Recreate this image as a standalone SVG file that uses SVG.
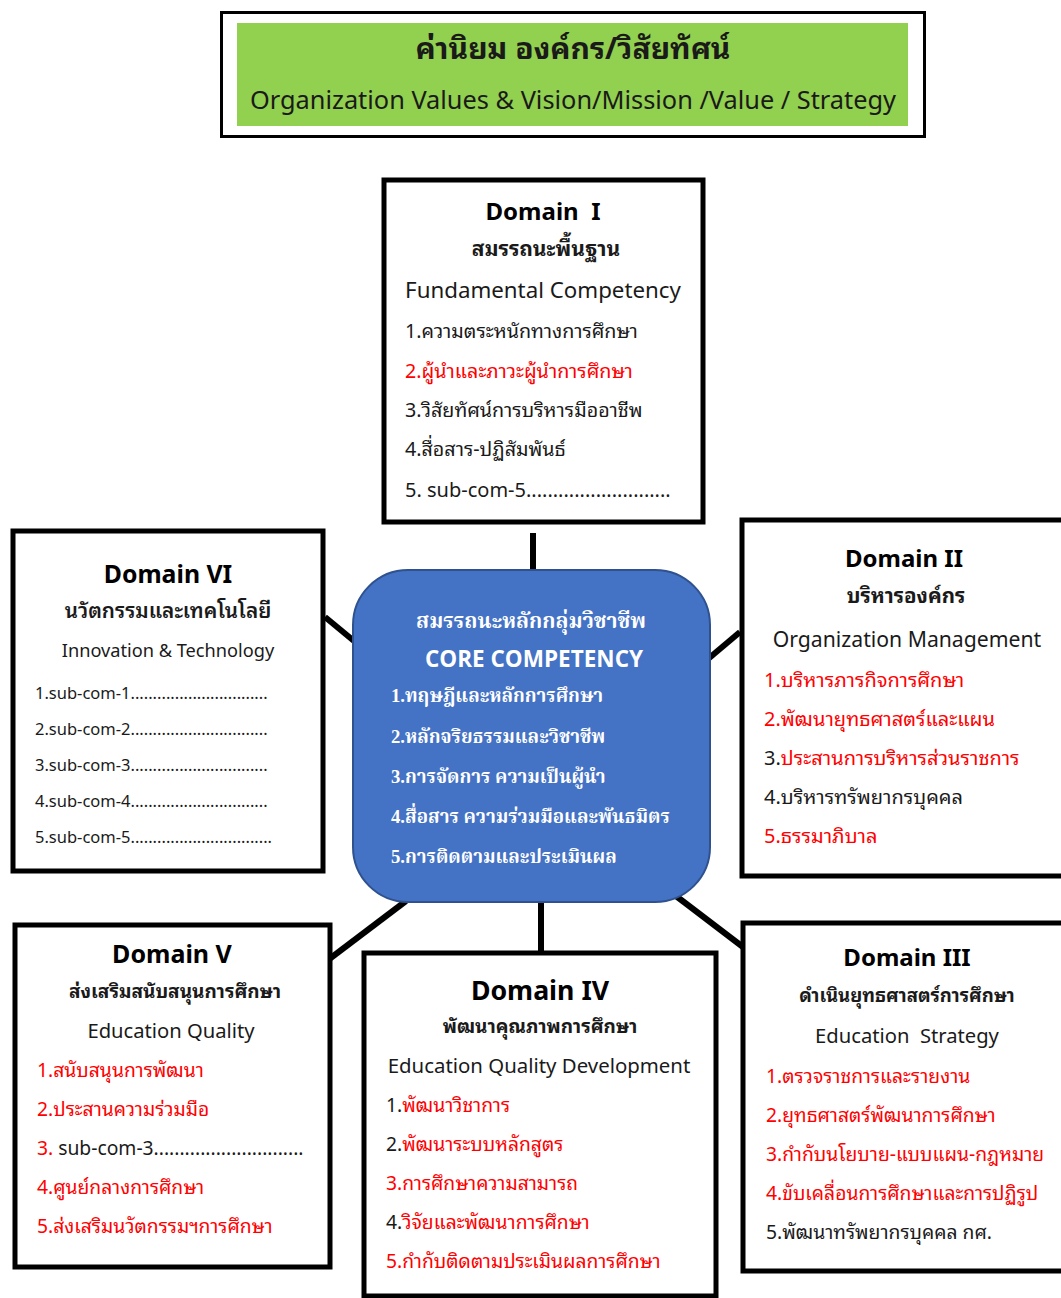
<svg xmlns="http://www.w3.org/2000/svg" width="1061" height="1298" viewBox="0 0 1061 1298">
<style>
.box{fill:#fff;stroke:#000;stroke-width:5}
.conn{stroke:#000;stroke-width:6;fill:none}
.t{font-family:"Noto Sans","Noto Sans Thai Looped","Noto Sans Thai","DejaVu Sans",sans-serif;fill:#1a1a1a}
.dom{font-weight:bold;text-anchor:middle;fill:#000}
.th{text-anchor:middle;fill:#1a1a1a}
.en{text-anchor:middle}
.r{fill:#ff0000}
.k{fill:#1a1a1a}
.c{font-family:"Liberation Serif","Noto Serif Thai","Noto Sans Thai",serif;fill:#fff;font-weight:bold}
</style>
<g id="header">
<rect x="221.5" y="12.5" width="703" height="124" fill="#fff" stroke="#000" stroke-width="3"/>
<rect x="237" y="23" width="671" height="103" fill="#92D050"/>
<text class="t" x="573" y="59" font-size="30" font-weight="bold" text-anchor="middle" fill="#000">ค่านิยม องค์กร/วิสัยทัศน์</text>
<text class="t" x="573" y="109" font-size="25" text-anchor="middle" fill="#000" textLength="646" lengthAdjust="spacingAndGlyphs">Organization Values &amp; Vision/Mission /Value / Strategy</text>
</g>
<g id="connectors">
<line class="conn" x1="533" y1="533" x2="533" y2="571"/>
<line class="conn" x1="325" y1="617" x2="354" y2="641"/>
<line class="conn" x1="740" y1="632" x2="708" y2="659"/>
<line class="conn" x1="406" y1="901" x2="328" y2="960"/>
<line class="conn" x1="541" y1="900" x2="541" y2="953"/>
<line class="conn" x1="676" y1="896" x2="743" y2="947"/>
</g>
<g id="core">
<rect x="353" y="570" width="357" height="332" rx="55" ry="55" fill="#4472C4" stroke="#2F528F" stroke-width="2"/>
<text class="c" x="531" y="628" font-size="21" text-anchor="middle" font-weight="normal">สมรรถนะหลักกลุ่มวิชาชีพ</text>
<text x="534" y="667" font-family="'Open Sans','Noto Sans',sans-serif" font-weight="bold" font-size="22.5" fill="#fff" text-anchor="middle">CORE COMPETENCY</text>
<text class="c" x="391" y="702" font-size="18.7">1.ทฤษฎีและหลักการศึกษา</text>
<text class="c" x="391" y="743" font-size="18.7">2.หลักจริยธรรมและวิชาชีพ</text>
<text class="c" x="391" y="783" font-size="18.7">3.การจัดการ ความเป็นผู้นำ</text>
<text class="c" x="391" y="823" font-size="18.7">4.สื่อสาร ความร่วมมือและพันธมิตร</text>
<text class="c" x="391" y="863" font-size="18.7">5.การติดตามและประเมินผล</text>
</g>
<g id="domain1">
<rect class="box" x="384" y="180" width="319" height="342"/>
<text class="t dom" x="543" y="220" font-size="24" xml:space="preserve">Domain  I</text>
<text class="t th" x="546" y="256" font-size="21" font-weight="bold">สมรรถนะพื้นฐาน</text>
<text class="t en" x="543" y="298" font-size="22.3">Fundamental Competency</text>
<text class="t" x="405" y="338" font-size="19.7">1.ความตระหนักทางการศึกษา</text>
<text class="t r" x="405" y="378" font-size="19.7">2.ผู้นำและภาวะผู้นำการศึกษา</text>
<text class="t" x="405" y="417" font-size="19.7">3.วิสัยทัศน์การบริหารมืออาชีพ</text>
<text class="t" x="405" y="456" font-size="19.7">4.สื่อสาร-ปฏิสัมพันธ์</text>
<text class="t" x="405" y="497" font-size="20">5. sub-com-5...........................</text>
</g>
<g id="domain2">
<rect class="box" x="742" y="520" width="330" height="356"/>
<text class="t dom" x="904" y="567" font-size="24">Domain II</text>
<text class="t th" x="906" y="603" font-size="20.5" font-weight="bold">บริหารองค์กร</text>
<text class="t en" x="907" y="647" font-size="21.2">Organization Management</text>
<text class="t r" x="764" y="687" font-size="20">1.บริหารภารกิจการศึกษา</text>
<text class="t r" x="764" y="726" font-size="20">2.พัฒนายุทธศาสตร์และแผน</text>
<text class="t" x="764" y="765" font-size="20"><tspan class="k">3.</tspan><tspan class="r">ประสานการบริหารส่วนราชการ</tspan></text>
<text class="t" x="764" y="804" font-size="20">4.บริหารทรัพยากรบุคคล</text>
<text class="t r" x="764" y="843" font-size="20">5.ธรรมาภิบาล</text>
</g>
<g id="domain6">
<rect class="box" x="13" y="531" width="310" height="340"/>
<text class="t dom" x="168" y="583" font-size="24.8">Domain VI</text>
<text class="t th" x="168" y="618" font-size="20.7" font-weight="600">นวัตกรรมและเทคโนโลยี</text>
<text class="t en" x="168" y="657" font-size="18.2">Innovation &amp; Technology</text>
<text class="t" x="35" y="699" font-size="16.5">1.sub-com-1...............................</text>
<text class="t" x="35" y="735" font-size="16.5">2.sub-com-2...............................</text>
<text class="t" x="35" y="771" font-size="16.5">3.sub-com-3...............................</text>
<text class="t" x="35" y="807" font-size="16.5">4.sub-com-4...............................</text>
<text class="t" x="35" y="843" font-size="16.5">5.sub-com-5................................</text>
</g>
<g id="domain3">
<rect class="box" x="743" y="923" width="330" height="348"/>
<text class="t dom" x="907" y="966" font-size="24">Domain III</text>
<text class="t th" x="907" y="1002" font-size="18.6" font-weight="bold">ดำเนินยุทธศาสตร์การศึกษา</text>
<text class="t en" x="907" y="1043" font-size="20.2" xml:space="preserve">Education  Strategy</text>
<text class="t r" x="766" y="1083" font-size="19.3">1.ตรวจราชการและรายงาน</text>
<text class="t r" x="766" y="1122" font-size="19.3">2.ยุทธศาสตร์พัฒนาการศึกษา</text>
<text class="t r" x="766" y="1161" font-size="19.3">3.กำกับนโยบาย-แบบแผน-กฎหมาย</text>
<text class="t r" x="766" y="1200" font-size="19.3">4.ขับเคลื่อนการศึกษาและการปฏิรูป</text>
<text class="t" x="766" y="1239" font-size="19.3">5.พัฒนาทรัพยากรบุคคล กศ.</text>
</g>
<g id="domain4">
<rect class="box" x="364" y="953" width="352" height="343"/>
<text class="t dom" x="540" y="1000" font-size="26.7">Domain IV</text>
<text class="t th" x="540" y="1033" font-size="19" font-weight="bold">พัฒนาคุณภาพการศึกษา</text>
<text class="t en" x="539" y="1073" font-size="20.4">Education Quality Development</text>
<text class="t" x="386" y="1112" font-size="19.3"><tspan class="k">1.</tspan><tspan class="r">พัฒนาวิชาการ</tspan></text>
<text class="t" x="386" y="1151" font-size="19.3"><tspan class="k">2.</tspan><tspan class="r">พัฒนาระบบหลักสูตร</tspan></text>
<text class="t r" x="386" y="1190" font-size="19.3">3.การศึกษาความสามารถ</text>
<text class="t" x="386" y="1229" font-size="19.3"><tspan class="k">4.</tspan><tspan class="r">วิจัยและพัฒนาการศึกษา</tspan></text>
<text class="t r" x="386" y="1268" font-size="19.3">5.กำกับติดตามประเมินผลการศึกษา</text>
</g>
<g id="domain5">
<rect class="box" x="15" y="925" width="315" height="342"/>
<text class="t dom" x="172" y="963" font-size="25">Domain V</text>
<text class="t th" x="175" y="998" font-size="19" font-weight="bold">ส่งเสริมสนับสนุนการศึกษา</text>
<text class="t en" x="171" y="1038" font-size="20.2">Education Quality</text>
<text class="t r" x="37" y="1077" font-size="19.3">1.สนับสนุนการพัฒนา</text>
<text class="t r" x="37" y="1116" font-size="19.3">2.ประสานความร่วมมือ</text>
<text class="t" x="37" y="1155" font-size="19.3"><tspan class="r">3.</tspan><tspan class="k"> sub-com-3.............................</tspan></text>
<text class="t r" x="37" y="1194" font-size="19.3">4.ศูนย์กลางการศึกษา</text>
<text class="t r" x="37" y="1233" font-size="19.3">5.ส่งเสริมนวัตกรรมฯการศึกษา</text>
</g>
</svg>
